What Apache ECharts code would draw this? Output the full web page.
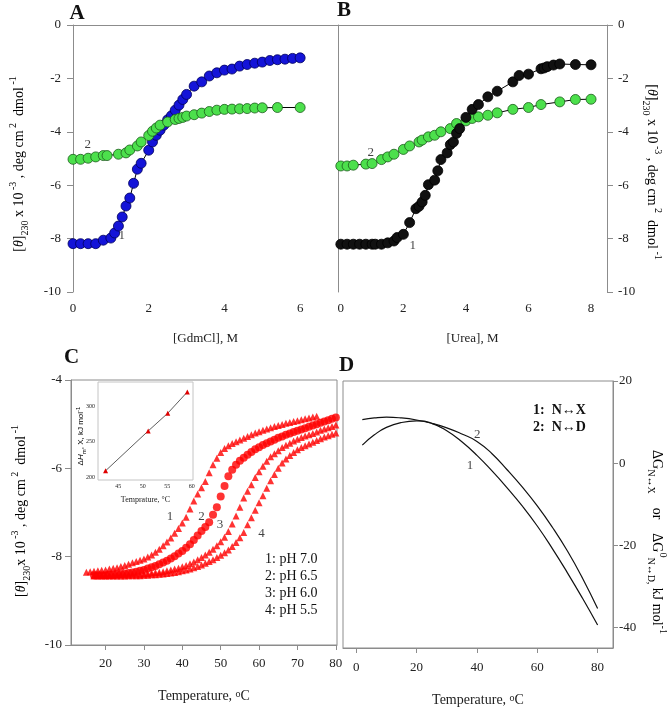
<!DOCTYPE html>
<html><head><meta charset="utf-8">
<script src="https://cdn.jsdelivr.net/npm/echarts@6/dist/echarts.min.js"></script>
<style>html,body{margin:0;padding:0;background:#fff}#main{width:671px;height:708px}</style>
</head><body><div id="main"></div><script>
// ---- panel A: GdmCl denaturation ----
var gdmBlue = [[0,-8.19],[0.2,-8.19],[0.4,-8.19],[0.6,-8.19],[0.8,-8.06],[1.0,-7.98],[1.1,-7.79],[1.2,-7.53],[1.3,-7.19],[1.4,-6.78],[1.5,-6.48],[1.6,-5.93],[1.7,-5.40],[1.8,-5.18],[2.0,-4.69],[2.1,-4.38],[2.2,-4.13],[2.3,-3.94],[2.4,-3.75],[2.5,-3.55],[2.6,-3.40],[2.7,-3.19],[2.8,-3.00],[2.9,-2.79],[3.0,-2.60],[3.2,-2.29],[3.4,-2.13],[3.6,-1.91],[3.8,-1.79],[4.0,-1.69],[4.2,-1.65],[4.4,-1.54],[4.6,-1.48],[4.8,-1.43],[5.0,-1.39],[5.2,-1.33],[5.4,-1.30],[5.6,-1.28],[5.8,-1.25],[6.0,-1.23]];
var gdmGreen = [[0,-5.03],[0.2,-5.03],[0.4,-4.99],[0.6,-4.94],[0.8,-4.89],[0.9,-4.89],[1.2,-4.84],[1.4,-4.79],[1.5,-4.68],[1.7,-4.53],[1.8,-4.38],[2.0,-4.14],[2.1,-3.98],[2.2,-3.86],[2.3,-3.75],[2.5,-3.63],[2.7,-3.54],[2.8,-3.50],[2.9,-3.46],[3.0,-3.41],[3.2,-3.36],[3.4,-3.30],[3.6,-3.24],[3.8,-3.19],[4.0,-3.16],[4.2,-3.15],[4.4,-3.14],[4.6,-3.13],[4.8,-3.11],[5.0,-3.10],[5.4,-3.09],[6.0,-3.09]];
// ---- panel B: urea denaturation ----
var ureaBlack = [[0,-8.21],[0.2,-8.21],[0.4,-8.21],[0.6,-8.21],[0.8,-8.21],[1.0,-8.21],[1.1,-8.21],[1.3,-8.21],[1.5,-8.16],[1.7,-8.09],[1.8,-7.96],[2.0,-7.84],[2.2,-7.40],[2.4,-6.88],[2.5,-6.79],[2.6,-6.63],[2.7,-6.38],[2.8,-5.98],[3.0,-5.81],[3.1,-5.46],[3.2,-5.04],[3.4,-4.79],[3.5,-4.48],[3.6,-4.38],[3.7,-4.06],[3.8,-3.88],[4.0,-3.46],[4.2,-3.16],[4.4,-2.98],[4.7,-2.69],[5.0,-2.48],[5.5,-2.13],[5.7,-1.89],[6.0,-1.84],[6.4,-1.64],[6.5,-1.61],[6.6,-1.56],[6.8,-1.50],[7.0,-1.46],[7.5,-1.48],[8.0,-1.49]];
var ureaGreen = [[0,-5.28],[0.2,-5.28],[0.4,-5.25],[0.8,-5.21],[1.0,-5.19],[1.3,-5.04],[1.5,-4.94],[1.7,-4.84],[2.0,-4.66],[2.2,-4.53],[2.5,-4.38],[2.6,-4.31],[2.8,-4.19],[3.0,-4.13],[3.2,-4.00],[3.5,-3.88],[3.7,-3.69],[4.0,-3.59],[4.2,-3.50],[4.4,-3.44],[4.7,-3.38],[5.0,-3.29],[5.5,-3.16],[6.0,-3.09],[6.4,-2.98],[7.0,-2.88],[7.5,-2.79],[8.0,-2.78]];
// ---- panel C: thermal melts at four pH ----
var ph70 = [[15,-8.35],[16,-8.34],[17,-8.33],[18,-8.32],[19,-8.31],[20,-8.30],[21,-8.28],[22,-8.26],[23,-8.25],[24,-8.22],[25,-8.20],[26,-8.17],[27,-8.14],[28,-8.11],[29,-8.08],[30,-8.05],[31,-8.01],[32,-7.96],[33,-7.90],[34,-7.83],[35,-7.75],[36,-7.67],[37,-7.58],[38,-7.47],[39,-7.36],[40,-7.24],[41,-7.11],[42,-6.92],[43,-6.74],[44,-6.58],[45,-6.44],[46,-6.30],[47,-6.10],[48,-5.92],[49,-5.77],[50,-5.64],[51,-5.55],[52,-5.49],[53,-5.44],[54,-5.40],[55,-5.36],[56,-5.32],[57,-5.28],[58,-5.24],[59,-5.20],[60,-5.17],[61,-5.14],[62,-5.11],[63,-5.08],[64,-5.05],[65,-5.03],[66,-5.01],[67,-4.98],[68,-4.96],[69,-4.94],[70,-4.92],[71,-4.90],[72,-4.88],[73,-4.86],[74,-4.84],[75,-4.82]];
var ph65 = [[17,-8.42],[18,-8.42],[19,-8.42],[20,-8.42],[21,-8.41],[22,-8.41],[23,-8.40],[24,-8.39],[25,-8.38],[26,-8.37],[27,-8.36],[28,-8.34],[29,-8.32],[30,-8.30],[31,-8.27],[32,-8.24],[33,-8.21],[34,-8.17],[35,-8.13],[36,-8.09],[37,-8.04],[38,-7.99],[39,-7.93],[40,-7.87],[41,-7.80],[42,-7.72],[43,-7.62],[44,-7.52],[45,-7.42],[46,-7.33],[47,-7.22],[48,-7.05],[49,-6.88],[50,-6.64],[51,-6.40],[52,-6.18],[53,-6.03],[54,-5.92],[55,-5.83],[56,-5.76],[57,-5.69],[58,-5.63],[59,-5.57],[60,-5.52],[61,-5.47],[62,-5.43],[63,-5.39],[64,-5.35],[65,-5.31],[66,-5.28],[67,-5.24],[68,-5.21],[69,-5.18],[70,-5.15],[71,-5.12],[72,-5.09],[73,-5.06],[74,-5.03],[75,-5.00],[76,-4.97],[77,-4.94],[78,-4.91],[79,-4.88],[80,-4.85]];
var ph60 = [[17,-8.42],[18,-8.42],[19,-8.42],[20,-8.42],[21,-8.42],[22,-8.42],[23,-8.41],[24,-8.41],[25,-8.41],[26,-8.41],[27,-8.40],[28,-8.40],[29,-8.40],[30,-8.39],[31,-8.38],[32,-8.37],[33,-8.36],[34,-8.35],[35,-8.34],[36,-8.32],[37,-8.30],[38,-8.28],[39,-8.26],[40,-8.23],[41,-8.20],[42,-8.16],[43,-8.12],[44,-8.07],[45,-8.02],[46,-7.96],[47,-7.90],[48,-7.83],[49,-7.75],[50,-7.66],[51,-7.56],[52,-7.43],[53,-7.26],[54,-7.08],[55,-6.88],[56,-6.67],[57,-6.52],[58,-6.37],[59,-6.21],[60,-6.08],[61,-5.95],[62,-5.84],[63,-5.74],[64,-5.67],[65,-5.60],[66,-5.53],[67,-5.48],[68,-5.43],[69,-5.38],[70,-5.34],[71,-5.30],[72,-5.27],[73,-5.24],[74,-5.21],[75,-5.18],[76,-5.14],[77,-5.11],[78,-5.08],[79,-5.05],[80,-5.02]];
var ph55 = [[17,-8.44],[18,-8.44],[19,-8.44],[20,-8.44],[21,-8.44],[22,-8.44],[23,-8.44],[24,-8.44],[25,-8.44],[26,-8.43],[27,-8.43],[28,-8.43],[29,-8.43],[30,-8.42],[31,-8.42],[32,-8.41],[33,-8.41],[34,-8.40],[35,-8.39],[36,-8.38],[37,-8.37],[38,-8.36],[39,-8.34],[40,-8.32],[41,-8.30],[42,-8.28],[43,-8.25],[44,-8.22],[45,-8.19],[46,-8.15],[47,-8.11],[48,-8.07],[49,-8.02],[50,-7.97],[51,-7.91],[52,-7.85],[53,-7.77],[54,-7.68],[55,-7.57],[56,-7.45],[57,-7.28],[58,-7.12],[59,-6.95],[60,-6.78],[61,-6.62],[62,-6.45],[63,-6.28],[64,-6.14],[65,-6.00],[66,-5.88],[67,-5.79],[68,-5.71],[69,-5.64],[70,-5.58],[71,-5.53],[72,-5.49],[73,-5.45],[74,-5.41],[75,-5.37],[76,-5.33],[77,-5.29],[78,-5.26],[79,-5.23],[80,-5.20]];
// inset: Tm vs dHm
var insetTm = [42.4, 51.1, 55.1, 59.1];
var insetDH = [209, 265, 290, 320];
// ---- panel D: stability curves ----
var dTemp = [2,6,10,15,20,25,30,35,40,45,50,55,60,65,70,75,80];
var dG_NX = [4.4,6.9,8.7,9.9,10.3,9.7,7.9,5.2,1.9,-1.9,-6.0,-10.4,-15.3,-20.8,-26.7,-32.9,-39.4];
var dG_ND = [10.6,11.0,11.2,11.0,10.5,9.7,8.6,7.1,5.3,2.3,-1.6,-5.8,-10.4,-15.6,-21.4,-28.0,-35.4];
// curve number annotations
var labA = [[1.29,-7.88,'1'],[0.39,-4.46,'2']];
var labB = [[2.3,-8.25,'1'],[0.96,-4.79,'2']];
var labC = [[36.8,-7.09,'1'],[45.0,-7.09,'2'],[49.8,-7.28,'3'],[60.6,-7.47,'4']];
var labD = [[37.7,-0.6,'1'],[40.1,7.0,'2']];

var TIMES = '"Liberation Serif", "Times New Roman", serif';
var AX = '#8c8c8c';

function ax(o) {
  var d = {type: 'value', splitLine: {show: false},
    axisLine: {show: true, onZero: false, lineStyle: {color: AX, width: 1}},
    axisTick: {show: true, length: 5, lineStyle: {color: AX}},
    axisLabel: {show: true, fontFamily: TIMES, fontSize: 13, color: '#222'},
    nameTextStyle: {fontFamily: TIMES, fontSize: 13, color: '#222'}};
  for (var k in o) {
    if (d[k] && typeof d[k] === 'object' && typeof o[k] === 'object' && !Array.isArray(o[k])) d[k] = Object.assign({}, d[k], o[k]);
    else d[k] = o[k];
  }
  return d;
}
function pairs(xs, ys) { return xs.map(function (x, i) { return [x, ys[i]]; }); }
function labels(data, xi, yi) {
  return {type: 'scatter', xAxisIndex: xi, yAxisIndex: yi, data: data, symbolSize: 1, z: 10,
    itemStyle: {color: 'rgba(0,0,0,0)'},
    label: {show: true, position: 'inside', formatter: function (p) { return p.value[2]; },
      fontFamily: TIMES, fontSize: 13, color: '#111'}};
}
function curveDots(data, xi, yi, fill, border) {
  return {type: 'line', xAxisIndex: xi, yAxisIndex: yi, data: data, symbol: 'circle', symbolSize: 10,
    itemStyle: {color: fill, borderColor: border, borderWidth: 0.8}, lineStyle: {color: '#000', width: 1}};
}
function melt(data, sym, size) {
  return {type: 'scatter', xAxisIndex: 4, yAxisIndex: 3, data: data, symbol: sym, symbolSize: size,
    itemStyle: {color: '#ff0000'}};
}

var richMain = {
  m: {fontFamily: TIMES, fontSize: 14, color: '#111', lineHeight: 22},
  i: {fontFamily: TIMES, fontSize: 14, fontStyle: 'italic', color: '#111', lineHeight: 22},
  sup: {fontFamily: TIMES, fontSize: 10, color: '#111', lineHeight: 12, verticalAlign: 'top'},
  sub: {fontFamily: TIMES, fontSize: 10, color: '#111', lineHeight: 12, verticalAlign: 'bottom'}
};
var thetaTitle = '{m|[}{i|θ}{m|]}{sub|230}{m| x 10}{sup| -3}{m| , deg cm}{sup| 2}{m|  dmol}{sup| -1}';
var thetaTitleC = '{m|[}{i|θ}{m|]}{sub|230}{m|x 10}{sup| -3}{m| , deg cm}{sup| 2}{m|  dmol}{sup| -1}';
var tempName = {fontFamily: TIMES, fontSize: 14, color: '#222',
  rich: {sup: {fontFamily: TIMES, fontSize: 10, color: '#222', verticalAlign: 'top', lineHeight: 10}}};

function rotText(x, y, rot, text, rich) {
  return {type: 'text', x: x, y: y, rotation: rot,
    style: {text: text, rich: rich, align: 'center', verticalAlign: 'middle', textAlign: 'center', textVerticalAlign: 'middle'}};
}
function plainText(x, y, text, font, align, va, lh) {
  return {type: 'text', x: x, y: y,
    style: {text: text, font: font, fill: '#111', align: align, verticalAlign: va, textAlign: align, textVerticalAlign: va, lineHeight: lh}};
}

var chart = echarts.init(document.getElementById('main'));
chart.setOption({
  animation: false,
  backgroundColor: '#fff',
  grid: [
    {left: 73, top: 25, width: 265, height: 267, containLabel: false, outerBoundsMode: 'none'},
    {left: 338, top: 25, width: 269, height: 267, containLabel: false, outerBoundsMode: 'none'},
    {left: 71, top: 380, width: 266, height: 265, show: true, borderColor: AX, borderWidth: 1, containLabel: false, outerBoundsMode: 'none'},
    {left: 343, top: 381, width: 270, height: 267, show: true, borderColor: AX, borderWidth: 1, containLabel: false, outerBoundsMode: 'none'},
    {left: 98, top: 382, width: 95, height: 98, show: true, borderColor: '#c4c4c4', borderWidth: 1, backgroundColor: '#fff', containLabel: false, outerBoundsMode: 'none'}
  ],
  xAxis: [
    ax({gridIndex: 0, min: 0, max: 7, axisLine: {show: false}, axisTick: {show: false},
      axisLabel: {margin: 10, customValues: [0, 2, 4, 6]},
      name: '[GdmCl], M', nameLocation: 'middle', nameGap: 40}),
    ax({gridIndex: 0, position: 'top', min: 0, max: 7, axisTick: {show: false}, axisLabel: {show: false}}),
    ax({gridIndex: 1, min: -0.09, max: 8.51, axisLine: {show: false}, axisTick: {show: false},
      axisLabel: {margin: 10, customValues: [0, 2, 4, 6, 8]},
      name: '[Urea], M', nameLocation: 'middle', nameGap: 40}),
    ax({gridIndex: 1, position: 'top', min: -0.09, max: 8.51, axisTick: {show: false}, axisLabel: {show: false}}),
    ax({gridIndex: 2, min: 11, max: 80.3, axisTick: {customValues: [20, 30, 40, 50, 60, 70, 80], length: 5},
      axisLabel: {margin: 12, customValues: [20, 30, 40, 50, 60, 70, 80]},
      name: 'Temperature, {sup|o}C', nameLocation: 'middle', nameGap: 44, nameTextStyle: tempName}),
    ax({gridIndex: 3, min: -4.4, max: 85.1, axisTick: {customValues: [0, 20, 40, 60, 80], length: 5},
      axisLabel: {margin: 13, customValues: [0, 20, 40, 60, 80]},
      name: 'Temperature, {sup|o}C', nameLocation: 'middle', nameGap: 45, nameTextStyle: tempName}),
    ax({gridIndex: 4, min: 40.85, max: 60.26, axisLine: {show: false}, axisTick: {show: false},
      axisLabel: {margin: 3, fontSize: 6, customValues: [45, 50, 55, 60]},
      name: 'Temprature, °C', nameLocation: 'middle', nameGap: 16, nameTextStyle: {fontFamily: TIMES, fontSize: 8, color: '#222'}})
  ],
  yAxis: [
    ax({gridIndex: 0, min: -10, max: 0, interval: 2, axisTick: {length: 6}, axisLabel: {margin: 12}}),
    ax({gridIndex: 1, min: -10, max: 0, axisTick: {show: false}, axisLabel: {show: false}}),
    ax({gridIndex: 1, position: 'right', min: -10, max: 0, interval: 2, axisTick: {length: 6}, axisLabel: {margin: 11}}),
    ax({gridIndex: 2, min: -10, max: -4, interval: 2, axisTick: {length: 6}, axisLabel: {margin: 9}}),
    ax({gridIndex: 3, position: 'right', min: -45, max: 20, axisTick: {customValues: [-40, -20, 0, 20], length: 5},
      axisLabel: {margin: 6, customValues: [-40, -20, 0, 20]}}),
    ax({gridIndex: 4, min: 196, max: 334, axisLine: {show: false}, axisTick: {show: false},
      axisLabel: {margin: 3, fontSize: 6, customValues: [200, 250, 300]}})
  ],
  series: [
    curveDots(gdmBlue, 0, 0, '#1414d8', '#00005a'),
    curveDots(gdmGreen, 0, 0, '#4ce04c', '#1c5c1c'),
    curveDots(ureaGreen, 2, 2, '#4ce04c', '#1c5c1c'),
    curveDots(ureaBlack, 2, 2, '#111111', '#000000'),
    melt(ph55, 'triangle', 7),
    melt(ph60, 'triangle', 7),
    melt(ph65, 'circle', 8),
    melt(ph70, 'triangle', 7),
    {type: 'line', xAxisIndex: 5, yAxisIndex: 4, data: pairs(dTemp, dG_NX), smooth: true, showSymbol: false,
      lineStyle: {color: '#111', width: 1.2}},
    {type: 'line', xAxisIndex: 5, yAxisIndex: 4, data: pairs(dTemp, dG_ND), smooth: true, showSymbol: false,
      lineStyle: {color: '#111', width: 1.2}},
    {type: 'line', xAxisIndex: 6, yAxisIndex: 5, data: pairs(insetTm, insetDH), symbol: 'triangle', symbolSize: 5,
      itemStyle: {color: '#e00000'}, lineStyle: {color: '#333', width: 0.8}, z: 5},
    labels(labA, 0, 0),
    labels(labB, 2, 2),
    labels(labC, 4, 3),
    labels(labD, 5, 4)
  ],
  graphic: [
    plainText(77, 14, 'A', 'bold 21px ' + TIMES, 'center', 'middle'),
    plainText(344, 11, 'B', 'bold 21px ' + TIMES, 'center', 'middle'),
    plainText(71.5, 357.5, 'C', 'bold 21px ' + TIMES, 'center', 'middle'),
    plainText(346.5, 366, 'D', 'bold 21px ' + TIMES, 'center', 'middle'),
    rotText(19, 164, Math.PI / 2, thetaTitle, richMain),
    rotText(652, 172, -Math.PI / 2, thetaTitle, richMain),
    rotText(21, 511, Math.PI / 2, thetaTitleC, richMain),
    rotText(657, 542, -Math.PI / 2,
      '{m|ΔG}{sub|N↔X}{m|    or    ΔG}{sup|0}{sub|N↔D,}{m| kJ mol}{sup|-1}', richMain),
    rotText(81, 436, Math.PI / 2, '{m|Δ}{i|H}{sub|m}{m|, X, kJ mol}{sup|-1}', {
      m: {fontFamily: '"Liberation Sans", Arial, sans-serif', fontSize: 8, color: '#222', lineHeight: 12},
      i: {fontFamily: '"Liberation Sans", Arial, sans-serif', fontSize: 8, fontStyle: 'italic', color: '#222', lineHeight: 12},
      sub: {fontFamily: '"Liberation Sans", Arial, sans-serif', fontSize: 6, color: '#222', lineHeight: 7, verticalAlign: 'bottom'},
      sup: {fontFamily: '"Liberation Sans", Arial, sans-serif', fontSize: 6, color: '#222', lineHeight: 7, verticalAlign: 'top'}
    }),
    plainText(265, 551, '1: pH 7.0\n2: pH 6.5\n3: pH 6.0\n4: pH 5.5', '14px ' + TIMES, 'left', 'top', 17),
    plainText(533, 402, '1:  N↔X\n2:  N↔D', 'bold 14px ' + TIMES, 'left', 'top', 17)
  ]
});
</script></body></html>
